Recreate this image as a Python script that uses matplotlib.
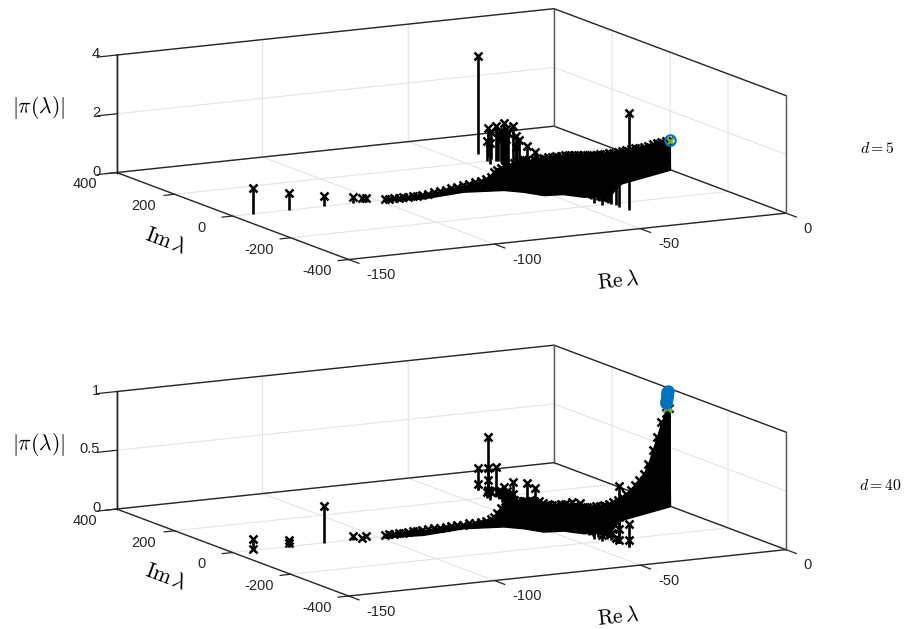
import matplotlib
matplotlib.use("Agg")
import matplotlib.pyplot as plt
from mpl_toolkits.mplot3d.art3d import Poly3DCollection

plt.rcParams['font.family'] = ['Liberation Sans', 'DejaVu Sans']
plt.rcParams['mathtext.fontset'] = 'cm'
plt.rcParams['axes.unicode_minus'] = False

x_ticks = [-150, -100, -50, 0]
x_tick_labels = ['-150', '-100', '-50', '0']
y_ticks = [-400, -200, 0, 200, 400]
y_tick_labels = ['-400', '-200', '0', '200', '400']
z5_ticks = [0, 2, 4]
z5_tick_labels = ['0', '2', '4']
z40_ticks = [0, 0.5, 1]
z40_tick_labels = ['0', '0.5', '1']

# isolated real eigenvalues
iso5_re = [-143, -130.6, -118.8, -108.9, -105.6, -104.4]
iso5_z = [.87, .59, .37, .2, .13, .13]
iso40_re = [-143, -143, -130.6, -130.6, -118.8, -108.9, -105.6, -104.4]
iso40_z = [.10, .008, .055, .03, .315, .03, .01, .02]

# upper edge of the dense eigenvalue cloud
edge_re = [-97.8, -96.3, -94.7, -93.1, -91.5, -89.9, -88.3, -86.7, -85, -83, -81, -79, -77, -75, -73, -71, -69, -67,
           -65, -63, -61.5, -60.5, -59.5, -58, -56.5, -55, -53.5, -52, -50.5, -49.5, -48, -46.5, -45, -43.5, -42,
           -40.5, -39, -37.5, -36, -34.5, -33, -31.5, -30, -28.5, -27, -25.5, -24, -22.5, -21, -19.5, -18, -16.5,
           -15, -13.5, -12, -10.5, -9, -7.5, -6, -4.5, -3, -1.5, -0.4]
edge5_z = [.02, .03, .02, .03, .02, .03, .03, .03, .04, .06, .08, .1, .12, .15, .18, .21, .24, .27,
           .3, .35, .4, .55, .62, .68, .72, .75, .8, .83, .88, .84, .8, .86, .82, .84, .86,
           .86, .88, .86, .88, .86, .84, .84, .82, .8, .8, .78, .78, .78, .78, .78, .8, .82,
           .82, .84, .85, .86, .88, .9, .92, .94, .96, .98, .99]
edge40_z = [.015, .02, .015, .02, .015, .02, .02, .02, .02, .02, .025, .025, .025, .03, .03, .03, .035, .035,
            .04, .04, .05, .07, .1, .14, .19, .2, .19, .18, .18, .17, .18, .17, .16, .14, .125,
            .12, .115, .115, .11, .1, .09, .08, .07, .065, .065, .065, .065, .065, .075, .085, .1, .12,
            .145, .175, .21, .25, .3, .38, .49, .6, .72, .8, .84]

# lower (floor) edge of the cloud
floor_re = [-98.8, -86.4, -71, -59, -55, -52, -46, -42.5, -38, -34, -26, -22.6, 0]
floor_im = [-5.5, -18, -1, -19, -47, -86, -94, -128, -135, -137, -80, -61, 0]

# conjugate pairs standing out of the cloud
spike5_re = [-40, -40, -40, -40, -40, -40, -40, -40, -40, -40, -40, -40, -40, -40, -44, -43, -42,
             -42, -42, -41, -41, -40, -39]
spike5_im = [260, 227, 215, 198, 190, 182, 172, 165, 155, 138, 130, 120, 92, 63, 180, 199, 110,
             142, 150, 160, 168, 176, 186]
spike5_z = [3.32, 1.0, .9, 1.18, 1.0, 1.05, 1.37, 1.2, 1.1, 1.4, 1.1, 1.0, .89, .8, .7, .7, .8,
            .95, .9, 1.0, .95, .9, .8]
spike40_re = [-40, -40, -40, -40, -40, -40, -40, -40, -40, -40, -41, -40, -40, -44, -43, -40, -42,
              -42, -42, -41, -41, -40, -39]
spike40_im = [260, 260, 227, 227, 227, 227, 198, 172, 172, 138, 150, 92, 63, 180, 199, 215, 120,
              142, 158, 165, 178, 186, 192]
spike40_z = [.19, .055, .488, .22, .12, .03, .255, .113, .06, .187, .1, .22, .2, .08, .05, .03, .1,
             .09, .08, .07, .07, .06, .05]

# selected eigenvalues close to the origin
blue5_re = [0]
blue5_z = [1.0]
blue40_re = [-1.3, -1.25, -1.2, -1.1, -1.0, -.9, -.8]
blue40_z = [.885, .9, .92, .94, .955, .97, .98]
olive5_re = [0]
olive5_z = [.98]
olive40_re = [-1.2, -.8]
olive40_z = [.84, .85]

DARK = '#262626'
BLUE = '#0072BD'
OLIVE = '#77AC30'

W_PX, H_PX = 923, 629
fig = plt.figure(figsize=(W_PX / 100, H_PX / 100), dpi=100)


def stems(ax, re, im, z, color='k', lw=1.9, marker='x', ms=5.6, mew=1.8, zo=5, mzo=5.5, mfc=None):
    ml, sl, bl = ax.stem(re, im, z, basefmt=' ')
    sl.set_color(color)
    sl.set_linewidth(lw)
    sl.set_clip_on(False)
    sl.set_zorder(zo)
    ml.set_linestyle('none')
    ml.set_marker(marker)
    ml.set_markersize(ms)
    ml.set_markeredgewidth(mew)
    ml.set_color(color)
    if mfc is not None:
        ml.set_markerfacecolor(mfc)
    ml.set_clip_on(False)
    ml.set_zorder(mzo)
    bl.set_visible(False)


def panel(cy, z_ticks, z_labels, zmax, edge_z, iso_re, iso_z, sp_re, sp_im, sp_z,
          b_re, b_z, o_re, o_z, blue_fill):
    side = 260
    left = (451.35 - .5135 * side) / W_PX
    bottom = (H_PX - (cy + .5135 * side)) / H_PX
    ax = fig.add_axes([left, bottom, side / W_PX, side / H_PX], projection='3d')
    ax.set_proj_type('ortho')
    ax.computed_zorder = False
    ax.view_init(elev=11.5, azim=-118)
    ax.set_box_aspect((495.3, 494.1, 119.9), zoom=689.1 / side)
    ax.patch.set_alpha(0)

    # olive and blue stems lie behind the cloud; the blue one shows at its right edge
    stems(ax, o_re, [0] * len(o_re), o_z, color=OLIVE, lw=1, zo=2.4, mzo=7)
    stems(ax, b_re, [0] * len(b_re), b_z, color=BLUE, lw=1.4, marker='o', ms=7.5, mew=1.5, zo=2.5, mzo=8,
          mfc=BLUE if blue_fill else 'none')
    ax.plot([0, 0], [0, 0], [0, max(b_z)], color=BLUE, lw=1.4, clip_on=False, zorder=2.6)

    # dense cloud merged into one black region
    verts = [(r, i, 0) for r, i in zip(floor_re, floor_im)]
    verts += [(r, 0, z) for r, z in zip(edge_re[::-1], edge_z[::-1])]
    poly = Poly3DCollection([verts], facecolor='k', edgecolor='k', linewidth=1, zorder=3)
    ax.add_collection3d(poly)
    poly.set_clip_on(False)

    stems(ax, edge_re, [0] * len(edge_re), edge_z)
    stems(ax, iso_re, [0] * len(iso_re), iso_z)
    stems(ax, sp_re + sp_re, sp_im + [-v for v in sp_im], sp_z + sp_z)

    ax.set_xlim(-150, 0)
    ax.set_ylim(-400, 400)
    ax.set_zlim(0, zmax)
    ax.set_xticks(x_ticks)
    ax.set_xticklabels(x_tick_labels)
    ax.set_yticks(y_ticks)
    ax.set_yticklabels(y_tick_labels)
    ax.set_zticks(z_ticks)
    ax.set_zticklabels(z_labels)

    inward = {'x': .555, 'y': .3, 'z': .555}
    for name, axis in (('x', ax.xaxis), ('y', ax.yaxis), ('z', ax.zaxis)):
        axis.set_pane_color((1, 1, 1, 0))
        axis.pane.set_edgecolor((1, 1, 1, 0))
        axis.line.set_color(DARK)
        axis.line.set_linewidth(1.0)
        info = axis._axinfo
        info['grid'].update(color='#e3e3e3', linewidth=.8)
        info['tick']['inward_factor'] = inward[name]
        info['tick']['outward_factor'] = 0
        info['tick']['linewidth'] = {True: .9, False: .5}
        info['tick']['color'] = DARK
    ax.tick_params(axis='x', pad=-.5, labelsize=10.5, labelcolor=DARK, colors=DARK)
    ax.tick_params(axis='y', pad=-1.0, labelsize=10.5, labelcolor=DARK, colors=DARK)
    ax.tick_params(axis='z', pad=-5.6, labelsize=10.5, labelcolor=DARK, colors=DARK)
    for t in ax.xaxis.get_major_ticks():
        t.label1.set_ha('left')
        t.label1.set_va('center')
    for t in ax.yaxis.get_major_ticks():
        t.label1.set_va('center')
    for t in ax.zaxis.get_major_ticks():
        t.label1.set_ha('right')
        t.label1.set_va('center')

    ax.set_xlabel(r'$\mathrm{Re}\,\lambda$', fontsize=15.5, labelpad=.2)
    ax.set_ylabel(r'$\mathrm{Im}\,\lambda$', fontsize=15.5, labelpad=-6.1)
    fig.text(38 / W_PX, 1 - (cy - 26.6) / H_PX, r'$|\pi(\lambda)|$', fontsize=15.5, ha='center', va='center')

    # remaining edges of the box
    for xs, ys, zs, col in (
        ([-150, 0, 0], [400, 400, -400], [zmax, zmax, zmax], DARK),
        ([-150, 0, 0], [400, 400, -400], [0, 0, 0], DARK),
        ([-150, -150], [400, 400], [0, zmax], DARK),
        ([0, 0], [400, 400], [0, zmax], '#555555'),
        ([0, 0], [-400, -400], [0, zmax], '#555555'),
    ):
        ax.plot(xs, ys, zs, color=col, lw=1.0, clip_on=False, zorder=2)
    ax.set_xlim(-150, 0)
    ax.set_ylim(-400, 400)
    ax.set_zlim(0, zmax)
    return ax


panel(134.1, z5_ticks, z5_tick_labels, 4, edge5_z, iso5_re, iso5_z, spike5_re, spike5_im, spike5_z,
      blue5_re, blue5_z, olive5_re, olive5_z, False)
panel(470.6, z40_ticks, z40_tick_labels, 1, edge40_z, iso40_re, iso40_z, spike40_re, spike40_im, spike40_z,
      blue40_re, blue40_z, olive40_re, olive40_z, True)

fig.text(877.5 / W_PX, 1 - 148 / H_PX, r'$d=5$', fontsize=11.3, ha='center', va='center')
fig.text(880 / W_PX, 1 - 485 / H_PX, r'$d=40$', fontsize=11.3, ha='center', va='center')

fig.savefig('out.png', dpi=100)
